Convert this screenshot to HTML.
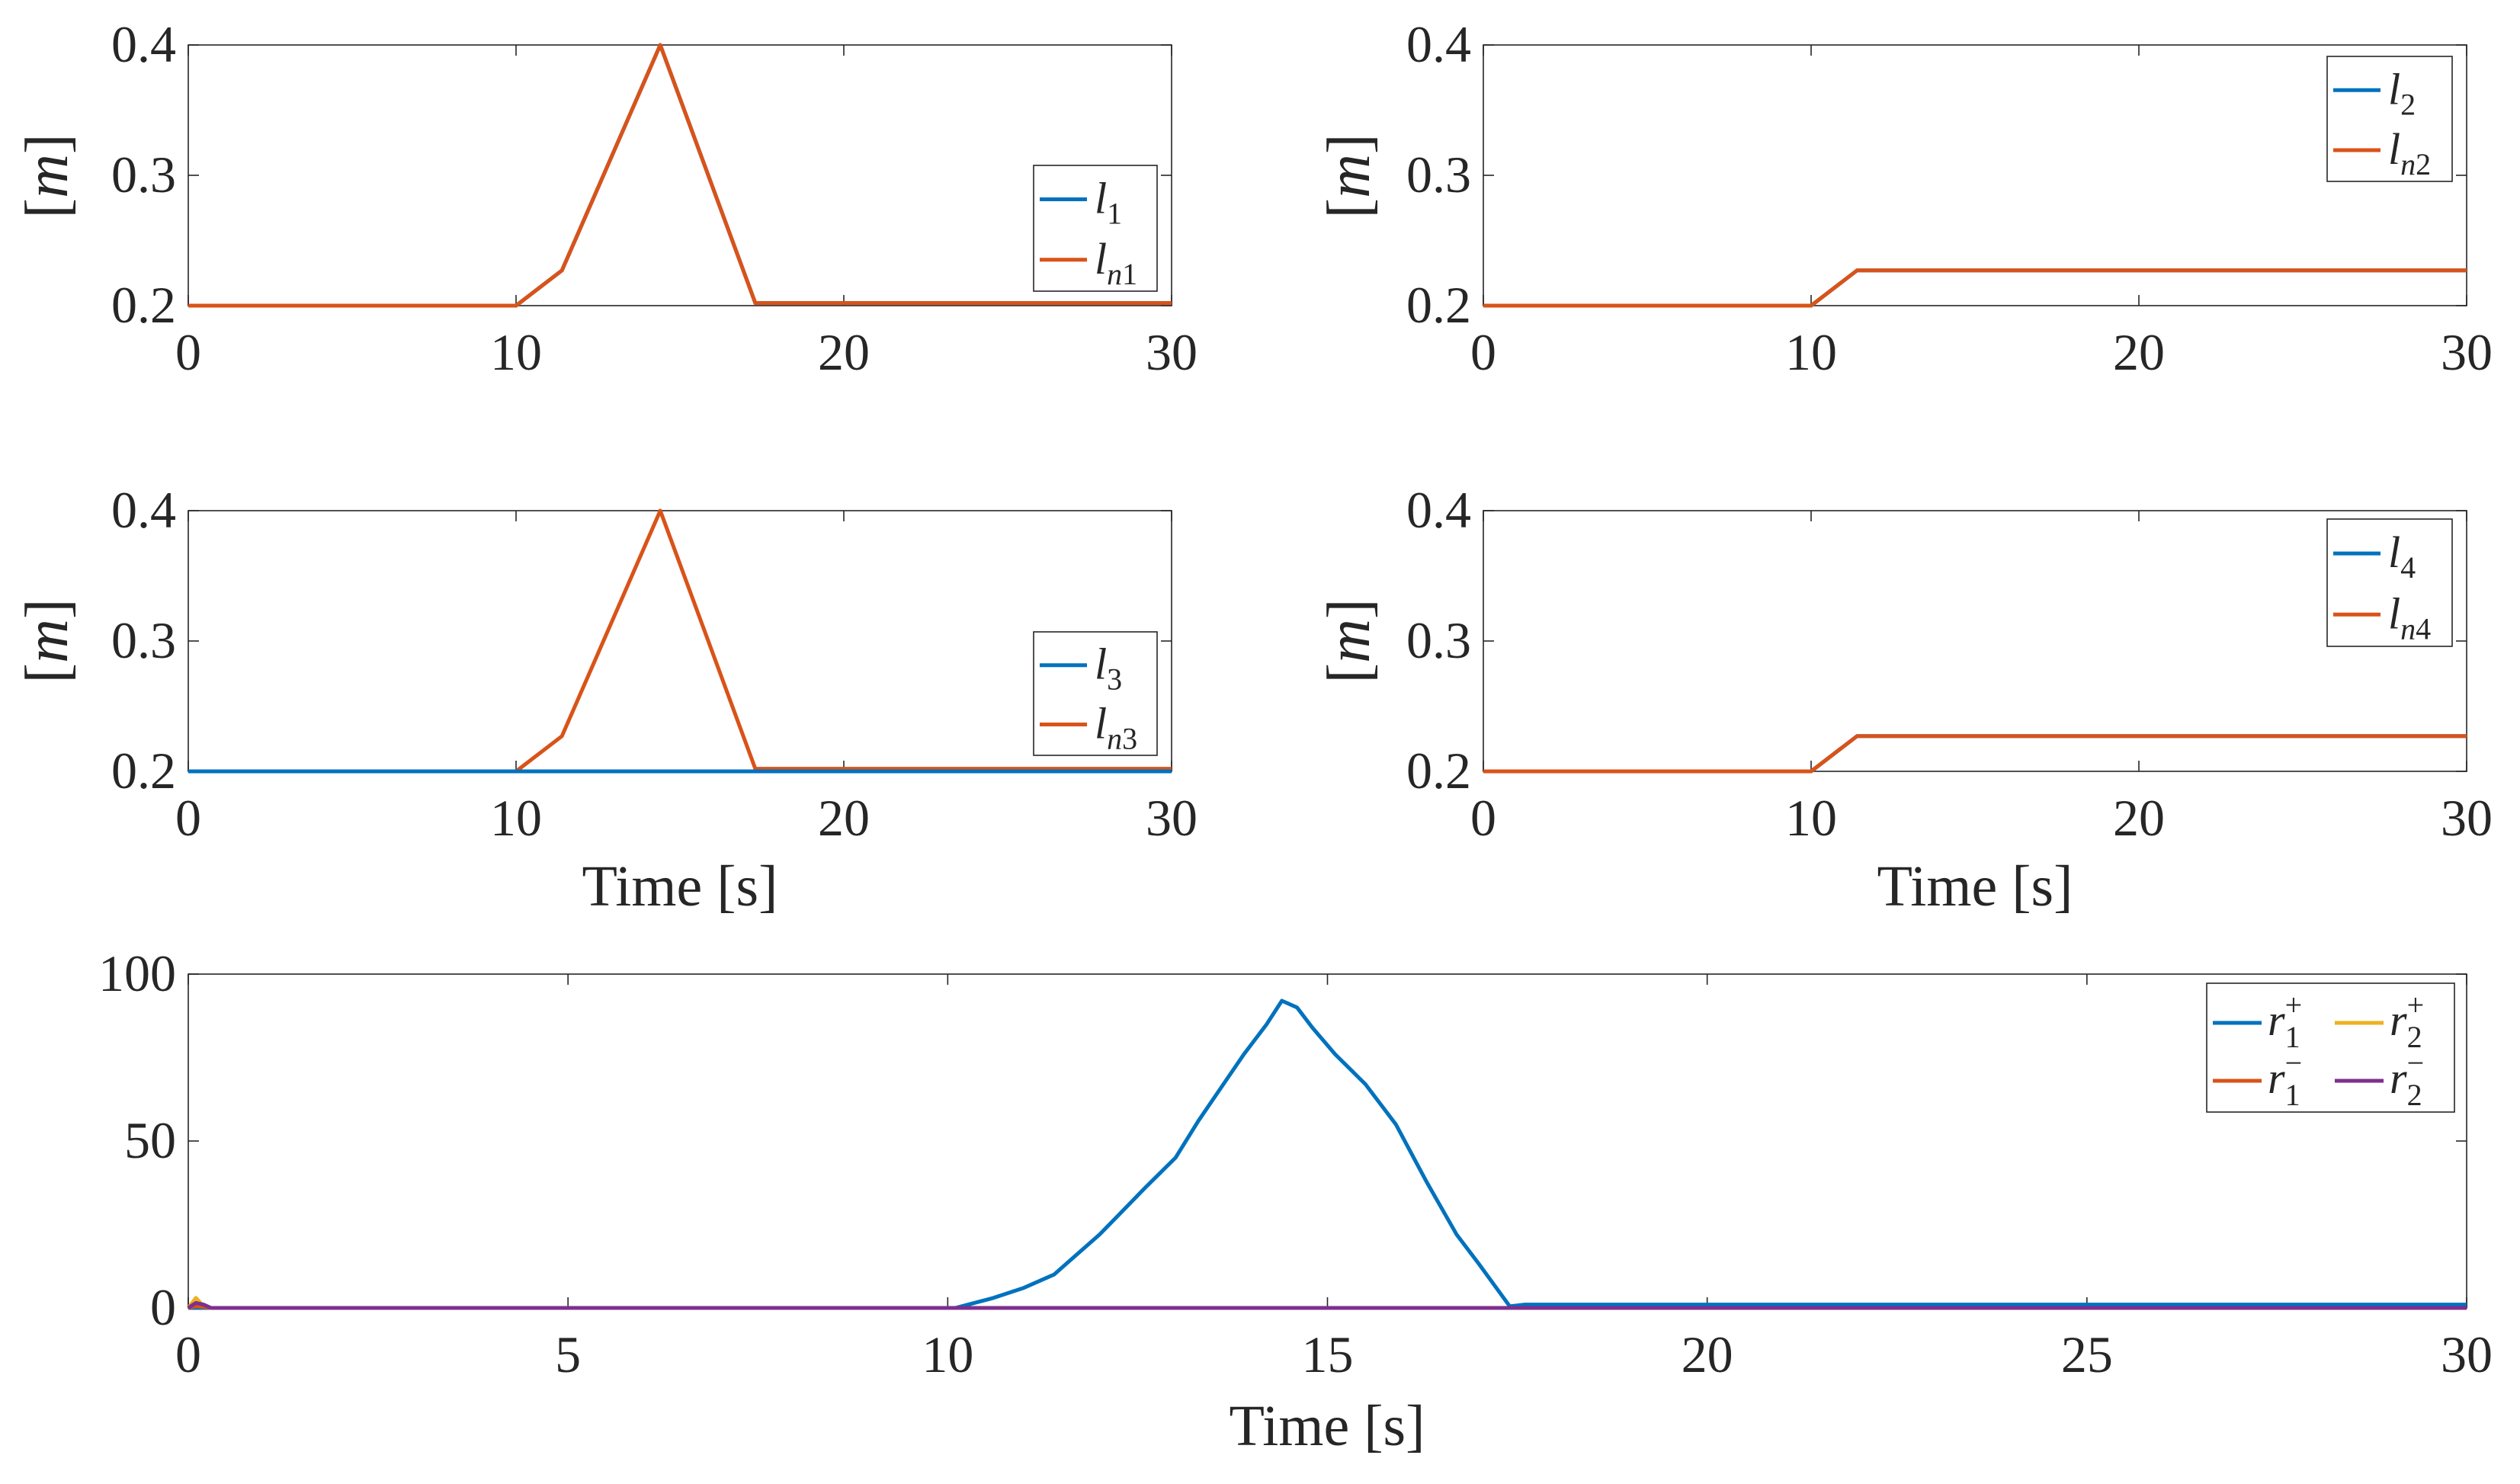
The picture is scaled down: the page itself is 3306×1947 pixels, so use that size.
<!DOCTYPE html>
<html><head><meta charset="utf-8"><style>
html,body{margin:0;padding:0;background:#fff}
svg{display:block}
text{font-family:"Liberation Serif",serif;fill:#262626}
</style></head><body>
<svg id="fig" width="3306" height="1947" viewBox="0 0 3306 1947" xmlns="http://www.w3.org/2000/svg"></svg>
<script>
// ---- data ----
const tDefault = [0, 10, 11.4, 14.4, 17.3, 30];
const ln1Vals = [0.2, 0.2, 0.227, 0.4, 0.202, 0.202];
const l1Vals = [0.2, 0.2, 0.227, 0.4, 0.202, 0.202];
const ln2T = [0, 10, 11.4, 30];
const ln2Vals = [0.2, 0.2, 0.227, 0.227];
const l2Vals = [0.2, 0.2, 0.227, 0.227];
const l3T = [0, 30];
const l3Vals = [0.2, 0.2];
const ln3Vals = [0.2, 0.2, 0.227, 0.4, 0.202, 0.202];
const ln4Vals = [0.2, 0.2, 0.227, 0.227];
const l4Vals = [0.2, 0.2, 0.227, 0.227];
const smallXTicks = [0, 10, 20, 30];
const smallYTicks = [0.2, 0.3, 0.4];
const rT = [0, 10.1, 10.6, 11.0, 11.4, 11.7, 12.0, 12.3, 12.6, 13.0, 13.3, 13.6, 13.9, 14.2, 14.4, 14.6, 14.8, 15.1, 15.5, 15.9, 16.3, 16.7, 17.0, 17.4, 17.6, 30];
const r1pVals = [0, 0, 3, 6, 10, 16, 22, 29, 36, 45, 56, 66, 76, 85, 92, 90, 84, 76, 67, 55, 38, 22, 13, 0.5, 1, 1];
const rFlatT = [0, 0.1, 0.2, 0.3, 30];
const r2pVals = [0, 3, 0.5, 0, 0];
const r1mVals = [0, 0.5, 0.3, 0, 0];
const r2mVals = [0, 1.5, 1, 0, 0];
const bigXTicks = [0, 5, 10, 15, 20, 25, 30];
const bigYTicks = [0, 50, 100];

const C = {blue:'#0072BD', orange:'#D95319', yellow:'#EDB120', purple:'#7E2F8E'};
const svg = document.getElementById('fig');
const NS = 'http://www.w3.org/2000/svg';
function el(tag, attrs, parent){const e=document.createElementNS(NS,tag);for(const k in attrs)e.setAttribute(k,attrs[k]);(parent||svg).appendChild(e);return e;}

function axes(name, x0, x1, y0, y1, xmin, xmax, ymin, ymax, xticks, yticks, yfmt){
  const g = el('g',{});
  
  
  const sx = v => x0 + (v - xmin) / (xmax - xmin) * (x1 - x0);
  const sy = v => y1 - (v - ymin) / (ymax - ymin) * (y1 - y0);
  el('rect',{x:x0,y:y0,width:x1-x0,height:y1-y0,fill:'#fff',stroke:'#262626','stroke-width':1.6},g);
  xticks.forEach(v=>{
    const x=sx(v);
    el('line',{x1:x,x2:x,y1:y1,y2:y1-14,stroke:'#262626','stroke-width':1.6},g);
    el('line',{x1:x,x2:x,y1:y0,y2:y0+14,stroke:'#262626','stroke-width':1.6},g);
    const t=el('text',{x:x,y:y1+84,'text-anchor':'middle','font-size':68},g);
    t.textContent=v;
    
    
  });
  yticks.forEach(v=>{
    const y=sy(v);
    el('line',{x1:x0,x2:x0+14,y1:y,y2:y,stroke:'#262626','stroke-width':1.6},g);
    el('line',{x1:x1,x2:x1-14,y1:y,y2:y,stroke:'#262626','stroke-width':1.6},g);
    const t=el('text',{x:x0-16,y:y+22,'text-anchor':'end','font-size':68},g);
    t.textContent=yfmt(v);
    
    
  });
  return {g,sx,sy};
}
function line(ax, xs, ys, color, name){
  const d = xs.map((x,i)=>(i?'L':'M')+ax.sx(x).toFixed(1)+' '+ax.sy(ys[i]).toFixed(1)).join(' ');
  const p = el('path',{d:d,fill:'none',stroke:color,'stroke-width':5,'stroke-linejoin':'round'},ax.g);
  
  
}
function ylabel(x,y){
  const t=el('text',{x:x,y:y,'text-anchor':'middle','font-size':80,transform:`rotate(-90 ${x} ${y})`});
  t.innerHTML='[<tspan font-style="italic">m</tspan>]';
  
  
}
function xlabel(x,y){
  const t=el('text',{x:x,y:y,'text-anchor':'middle','font-size':76});
  t.textContent='Time [s]';
  
  
}
function legend2(name, x, y, w, h, items){
  const g=el('g',{});
  
  
  el('rect',{x:x,y:y,width:w,height:h,fill:'#fff',stroke:'#262626','stroke-width':1.6},g);
  items.forEach((it,i)=>{
    const cy=y+h*(0.27+0.48*i);
    el('line',{x1:x+8,x2:x+70,y1:cy,y2:cy,stroke:it.c,'stroke-width':5},g);
    const t=el('text',{x:x+80,y:cy+18,'font-size':58,'font-style':'italic'},g);
    t.innerHTML='l<tspan font-size="40" font-style="normal" dy="14">'+it.s+'</tspan>';
    
    
  });
}
const f1 = v=>v.toFixed(1);
const LX0=247, LX1=1537, RX0=1946, RX1=3236;
// top-left
let a=axes('plot-l1', LX0,LX1,59,401, 0,30,0.2,0.4, smallXTicks, smallYTicks, f1);
line(a,tDefault,l1Vals,C.blue,'line-l1'); line(a,tDefault,ln1Vals,C.orange,'line-ln1');
ylabel(88,231);
legend2('legend-l1',1356,217,162,165,[{c:C.blue,s:'1'},{c:C.orange,s:'<tspan font-style="italic">n</tspan>1'}]);
// top-right
a=axes('plot-l2', RX0,RX1,59,401, 0,30,0.2,0.4, smallXTicks, smallYTicks, f1);
line(a,ln2T,l2Vals,C.blue,'line-l2'); line(a,ln2T,ln2Vals,C.orange,'line-ln2');
ylabel(1796,231);
legend2('legend-l2',3053,74,164,164,[{c:C.blue,s:'2'},{c:C.orange,s:'<tspan font-style="italic">n</tspan>2'}]);
// mid-left
a=axes('plot-l3', LX0,LX1,670,1012, 0,30,0.2,0.4, smallXTicks, smallYTicks, f1);
line(a,tDefault,ln3Vals,C.orange,'line-ln3'); line(a,l3T,l3Vals,C.blue,'line-l3');
ylabel(88,841);
legend2('legend-l3',1356,829,162,162,[{c:C.blue,s:'3'},{c:C.orange,s:'<tspan font-style="italic">n</tspan>3'}]);
xlabel(892,1188);
// mid-right
a=axes('plot-l4', RX0,RX1,670,1012, 0,30,0.2,0.4, smallXTicks, smallYTicks, f1);
line(a,ln2T,l4Vals,C.blue,'line-l4'); line(a,ln2T,ln4Vals,C.orange,'line-ln4');
ylabel(1796,841);
legend2('legend-l4',3053,681,164,167,[{c:C.blue,s:'4'},{c:C.orange,s:'<tspan font-style="italic">n</tspan>4'}]);
xlabel(2591,1188);
// bottom
a=axes('plot-r', LX0,RX1,1278,1716, 0,30,0,100, bigXTicks, bigYTicks, v=>String(v));
line(a,rT,r1pVals,C.blue,'line-r1-plus');
line(a,rFlatT,r2pVals,C.yellow,'line-r2-plus');
line(a,rFlatT,r1mVals,C.orange,'line-r1-minus');
line(a,rFlatT,r2mVals,C.purple,'line-r2-minus');
xlabel(1741,1896);
(function(){
  const x=2895,y=1290,w=325,h=169;
  const g=el('g',{});
  
  
  el('rect',{x:x,y:y,width:w,height:h,fill:'#fff',stroke:'#262626','stroke-width':1.6},g);
  const items=[{c:C.blue,s:'1',p:'+',cx:0,r:0},{c:C.yellow,s:'2',p:'+',cx:1,r:0},{c:C.orange,s:'1',p:'−',cx:0,r:1},{c:C.purple,s:'2',p:'−',cx:1,r:1}];
  items.forEach(it=>{
    const lx=x+8+it.cx*160, cy=y+52+it.r*76;
    el('line',{x1:lx,x2:lx+64,y1:cy,y2:cy,stroke:it.c,'stroke-width':5},g);
    const t=el('text',{x:lx+72,y:cy+16,'font-size':58,'font-style':'italic'},g);
    t.innerHTML='r<tspan font-size="40" font-style="normal" dy="16">'+it.s+'</tspan><tspan font-size="40" font-style="normal" dx="-20" dy="-42">'+it.p+'</tspan>';
    
    
  });
})();
</script>
</body></html>
